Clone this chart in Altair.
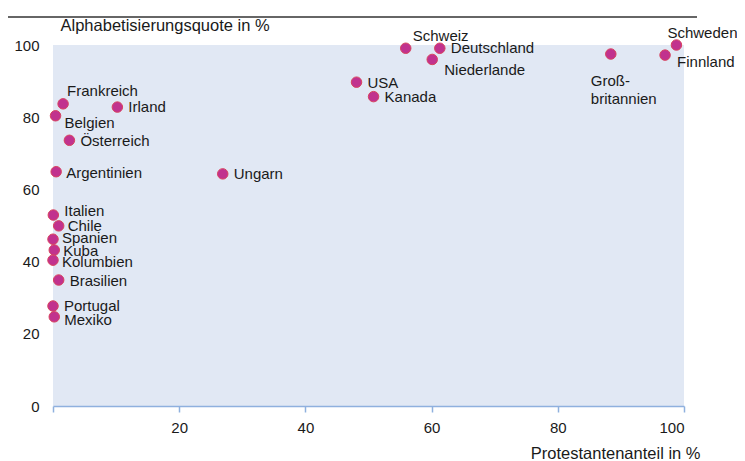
import altair as alt
import pandas as pd

countries = ["Schweden", "Finnland", "Groß-\nbritannien", "Schweiz", "Deutschland",
             "Niederlande", "USA", "Kanada", "Ungarn", "Frankreich", "Irland",
             "Belgien", "Österreich", "Argentinien", "Italien", "Chile", "Spanien",
             "Kuba", "Kolumbien", "Brasilien", "Portugal", "Mexiko"]
protestanten = [98.8, 97.0, 88.4, 55.9, 61.3, 60.1, 48.1, 50.8, 26.9, 1.6, 10.2,
                0.4, 2.6, 0.5, 0.05, 0.9, 0.0, 0.2, 0.0, 0.9, 0.0, 0.2]
alphabetisierung = [100.0, 97.2, 97.5, 99.1, 99.1, 96.0, 89.7, 85.7, 64.3, 83.7, 82.8,
                    80.4, 73.6, 64.9, 52.9, 49.9, 46.2, 43.2, 40.4, 34.9, 27.7, 24.7]
x_ticks = [0, 20, 40, 60, 80, 100]
y_ticks = [0, 20, 40, 60, 80, 100]

# label placement (pixel offsets from each point: left edge, vertical centre)
label_offsets = {
    "Schweden": (-9, -12), "Finnland": (12, 7), "Groß-\nbritannien": (-20, 27),
    "Schweiz": (7, -12), "Deutschland": (11, 0), "Niederlande": (12, 11),
    "USA": (11, 1), "Kanada": (11, 0), "Ungarn": (11, 0), "Frankreich": (4, -13),
    "Irland": (11, 0), "Belgien": (9, 7), "Österreich": (11, 1),
    "Argentinien": (10, 1), "Italien": (11, -4), "Chile": (9, 0),
    "Spanien": (9, -1), "Kuba": (9, 1), "Kolumbien": (9, 2), "Brasilien": (11, 1),
    "Portugal": (11, 0), "Mexiko": (10, 3),
}

df = pd.DataFrame({"land": countries, "prot": protestanten, "alpha": alphabetisierung})

FONT = "Liberation Sans"
TXT = "#1a1a1a"
AXIS_BLUE = "#8fb0de"

x_scale = alt.Scale(domain=[0, 100], nice=False)
y_scale = alt.Scale(domain=[0, 100], nice=False)

x_enc = alt.X("prot:Q", scale=x_scale,
              axis=alt.Axis(values=x_ticks, title="Protestantenanteil in %",
                            labelExpr="datum.value == 0 ? '' : datum.label",
                            grid=False, domainColor=AXIS_BLUE, domainWidth=1.5,
                            tickColor=AXIS_BLUE, tickWidth=1.5, tickSize=6,
                            labelPadding=8, labelFontSize=15, labelColor=TXT,
                            labelFont=FONT, titleFont=FONT, titleFontSize=16.5,
                            titleFontWeight="normal", titleColor=TXT,
                            titleAnchor="end", titleAlign="right",
                            titleBaseline="middle", titleX=647, titleY=47))
y_enc = alt.Y("alpha:Q", scale=y_scale,
              axis=alt.Axis(values=y_ticks, title="Alphabetisierungsquote in %",
                            grid=False, domain=False, ticks=False,
                            labelPadding=14, labelFontSize=15, labelColor=TXT,
                            labelFont=FONT, titleFont=FONT, titleFontSize=16.5,
                            titleFontWeight="normal", titleColor=TXT, titleAngle=0,
                            titleAlign="left", titleBaseline="middle",
                            titleX=7, titleY=-20))

points = alt.Chart(df).mark_point(filled=True, size=110, fill="#c1328e",
                                  stroke="#d8435f", strokeWidth=1, opacity=1).encode(
    x=x_enc, y=y_enc)

layers = [points]
for name, (dx, dy) in label_offsets.items():
    layers.append(
        alt.Chart(df).transform_filter(alt.datum.land == name).mark_text(
            align="left", baseline="middle", dx=dx, dy=dy, font=FONT, fontSize=15,
            color=TXT, lineBreak="\n", lineHeight=18).encode(
            x="prot:Q", y="alpha:Q", text="land:N"))

# thin dark frame line along the top of the figure
top_rule = alt.Chart(df.head(1)).mark_rule(
    stroke="#333333", strokeWidth=1.5, clip=False).encode(
    x=alt.value(-45), x2=alt.value(644), y=alt.value(-28))
layers.append(top_rule)

chart = alt.layer(*layers).properties(
    width=631, height=361,
    autosize=alt.AutoSizeParams(type="none"),
    padding={"left": 45, "top": 37, "right": 53, "bottom": 54},
).configure_view(fill="#e1e8f4", stroke=None)

chart.save("out.html", embed_options={"renderer": "svg", "actions": False})
